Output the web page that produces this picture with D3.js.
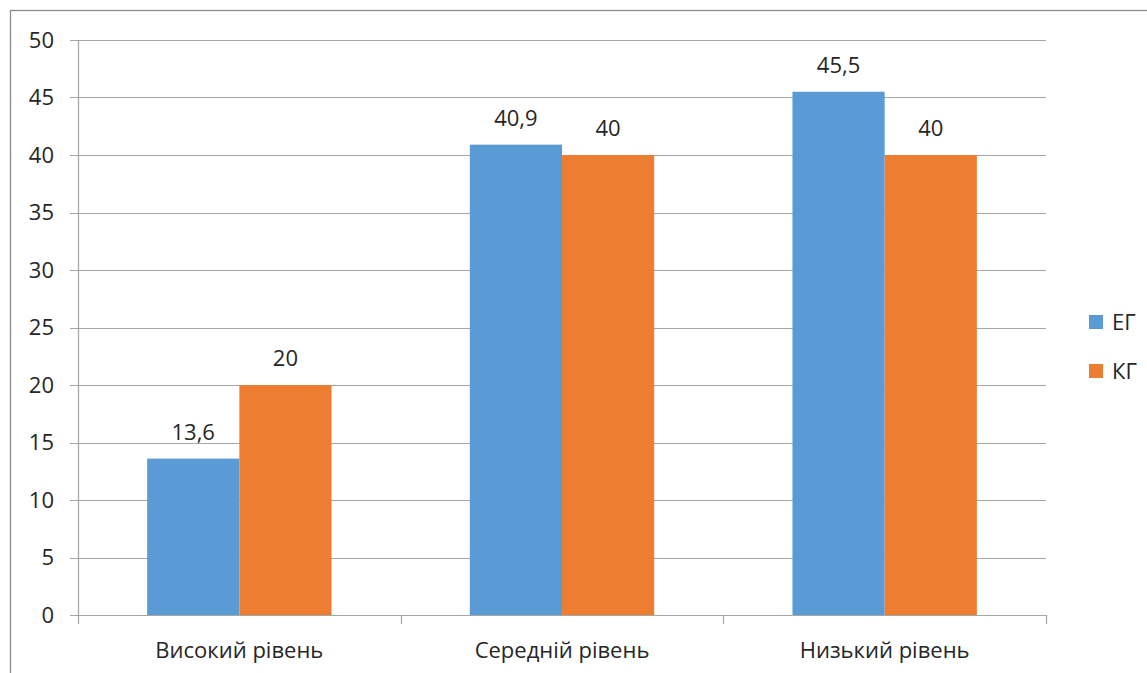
<!DOCTYPE html>
<html>
<head>
<meta charset="utf-8">
<script src="https://cdn.jsdelivr.net/npm/d3@7"></script>
<style>
  body { margin: 0; background: #fff; }
  text { font-family: "Open Sans", Lato, sans-serif; fill: #262626; }
</style>
</head>
<body>
<div class="js-chart"></div>
<script>
let categories = ["Високий рівень", "Середній рівень", "Низький рівень"];
let seriesNames = ["ЕГ", "КГ"];
let egValues = [13.6, 40.9, 45.5];
let kgValues = [20, 40, 40];
let seriesColors = ["#5B9BD5", "#ED7D31"];
let yTicks = [0, 5, 10, 15, 20, 25, 30, 35, 40, 45, 50];

let width = 1147,
    height = 673;
let plotLeft = 78, plotRight = 1046, plotTop = 40, plotBottom = 615;
let fontSize = 22;

let svg = d3.select(".js-chart").append("svg")
    .attr("width", width)
    .attr("height", height);

// outer frame (cropped at right / bottom)
svg.append("rect")
    .attr("x", 10.5).attr("y", 10.5)
    .attr("width", width + 20).attr("height", height + 20)
    .attr("fill", "none")
    .attr("stroke", "#8c8c8c")
    .attr("stroke-width", 1.3);

let x = d3.scaleBand().domain(categories).range([plotLeft, plotRight]).paddingInner(0).paddingOuter(0);
let x1 = d3.scaleBand().domain(seriesNames).range([0, x.bandwidth()]).paddingInner(0).paddingOuter(0.75);
let y = d3.scaleLinear().domain([0, 50]).range([plotBottom, plotTop]);

// gridlines
svg.append("g")
    .selectAll("line")
    .data(yTicks)
    .join("line")
    .attr("x1", plotLeft - 8).attr("x2", plotRight)
    .attr("y1", d => Math.round(y(d)) + 0.5)
    .attr("y2", d => Math.round(y(d)) + 0.5)
    .attr("stroke", "#a6a6a6")
    .attr("stroke-width", 1.2);

// y axis line
svg.append("line")
    .attr("x1", plotLeft + 0.5).attr("x2", plotLeft + 0.5)
    .attr("y1", plotTop).attr("y2", plotBottom)
    .attr("stroke", "#a6a6a6").attr("stroke-width", 1.2);

// y tick labels
svg.append("g")
    .selectAll("text")
    .data(yTicks)
    .join("text")
    .attr("x", 54)
    .attr("y", d => y(d))
    .attr("dy", "0.36em")
    .attr("text-anchor", "end")
    .attr("font-size", fontSize)
    .text(d => d);

// x category boundary ticks
let bounds = categories.map(c => x(c)).concat([plotRight]);
svg.append("g")
    .selectAll("line")
    .data(bounds)
    .join("line")
    .attr("x1", d => Math.round(d) + 0.5).attr("x2", d => Math.round(d) + 0.5)
    .attr("y1", plotBottom).attr("y2", plotBottom + 9)
    .attr("stroke", "#a6a6a6").attr("stroke-width", 1.2);

// bars
let rows = categories.map((c, i) => ({cat: c, values: [egValues[i], kgValues[i]]}));
let groups = svg.append("g")
    .selectAll("g")
    .data(rows)
    .join("g")
    .attr("transform", d => "translate(" + x(d.cat) + ",0)");

groups.selectAll("rect")
    .data(d => d.values.map((v, j) => ({name: seriesNames[j], value: v, color: seriesColors[j]})))
    .join("rect")
    .attr("x", d => x1(d.name))
    .attr("width", x1.bandwidth())
    .attr("y", d => y(d.value))
    .attr("height", d => plotBottom - y(d.value))
    .attr("fill", d => d.color);

groups.selectAll("text")
    .data(d => d.values.map((v, j) => ({name: seriesNames[j], value: v})))
    .join("text")
    .attr("x", d => x1(d.name) + x1.bandwidth() / 2)
    .attr("y", d => y(d.value) - 19)
    .attr("text-anchor", "middle")
    .attr("font-size", fontSize)
    .text(d => String(d.value).replace(".", ","));

// category labels
svg.append("g")
    .selectAll("text")
    .data(categories)
    .join("text")
    .attr("x", d => x(d) + x.bandwidth() / 2)
    .attr("y", 658)
    .attr("text-anchor", "middle")
    .attr("font-size", fontSize)
    .text(d => d);

// legend
let legend = svg.append("g")
    .selectAll("g")
    .data(seriesNames)
    .join("g")
    .attr("transform", (d, i) => "translate(1089," + (315 + i * 49) + ")");

legend.append("rect")
    .attr("width", 14).attr("height", 14)
    .attr("fill", (d, i) => seriesColors[i]);

legend.append("text")
    .attr("x", 23)
    .attr("y", 15)
    .attr("font-size", fontSize)
    .text(d => d);
</script>
</body>
</html>
